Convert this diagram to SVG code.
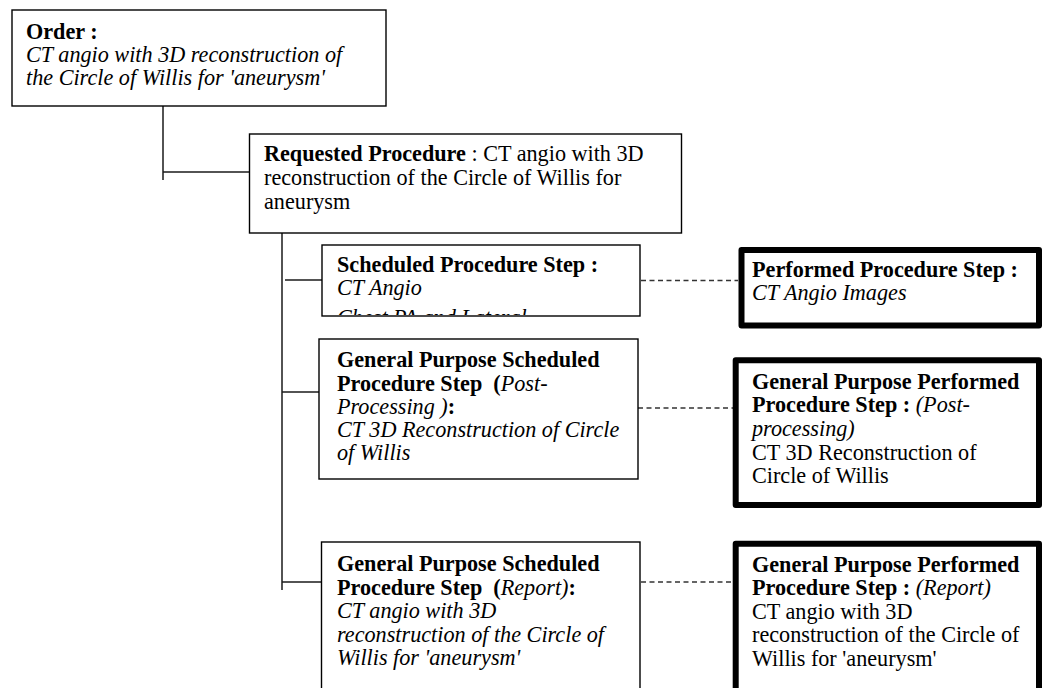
<svg xmlns="http://www.w3.org/2000/svg" width="1042" height="688" viewBox="0 0 1042 688">
  <defs>
    <style>
      text { font-family: "Liberation Serif", "Times New Roman", serif; font-size: 22.2px; fill: #000; }
      .b { font-weight: bold; }
      .i { font-style: italic; }
      .box { fill: #fff; stroke: #000; stroke-width: 1.4; }
      .thick { fill: #fff; stroke: #000; stroke-width: 6; stroke-linejoin: round; }
      .tree { fill: none; stroke: #1a1a1a; stroke-width: 1.5; }
      .dash { fill: none; stroke: #333; stroke-width: 1.3; stroke-dasharray: 5 3.5; }
    </style>
    <clipPath id="spsClip">
      <rect x="323" y="246" width="316" height="69"/>
    </clipPath>
  </defs>
  <rect width="1042" height="688" fill="#fff"/>

  <!-- tree lines and dashed links -->
  <g id="connectors">
    <line class="tree" x1="163" y1="106" x2="163" y2="180"/>
    <line class="tree" x1="163" y1="172" x2="249.5" y2="172"/>
    <line class="tree" x1="282" y1="233" x2="282" y2="590"/>
    <line class="tree" x1="285" y1="280" x2="322" y2="280"/>
    <line class="tree" x1="282" y1="392" x2="319" y2="392"/>
    <line class="tree" x1="282" y1="582" x2="321.5" y2="582"/>
    <line class="dash" x1="641" y1="280.5" x2="738" y2="280.5"/>
    <line class="dash" x1="638" y1="408" x2="733" y2="408"/>
    <line class="dash" x1="641" y1="582" x2="733" y2="582"/>
  </g>

  <g id="order">
    <rect class="box" x="12" y="10" width="374" height="96"/>
    <text x="26" y="38.5" class="b">Order :</text>
    <text x="26" y="61.5" class="i">CT angio with 3D reconstruction of</text>
    <text x="26" y="84.5" class="i">the Circle of Willis for 'aneurysm'</text>
  </g>

  <g id="requested-procedure">
    <rect class="box" x="249.5" y="134" width="432" height="99"/>
    <text x="264" y="161"><tspan class="b">Requested Procedure</tspan> : CT angio with 3D</text>
    <text x="264" y="185">reconstruction of the Circle of Willis for</text>
    <text x="264" y="209">aneurysm</text>
  </g>

  <g id="scheduled-step">
    <rect class="box" x="322" y="245" width="318" height="71"/>
    <text x="337" y="271.5" class="b">Scheduled Procedure Step :</text>
    <text x="337" y="295" class="i">CT Angio</text>
    <text x="337" y="325" class="i" clip-path="url(#spsClip)">Chest PA and Lateral</text>
  </g>

  <g id="performed-step">
    <rect class="thick" x="741.5" y="250" width="297.5" height="75.5"/>
    <text x="752" y="276.5" class="b">Performed Procedure Step :</text>
    <text x="752" y="300" class="i">CT Angio Images</text>
  </g>

  <g id="gp-scheduled-post">
    <rect class="box" x="319" y="339" width="319" height="140"/>
    <text x="337" y="367" class="b">General Purpose Scheduled</text>
    <text x="337" y="390.5" xml:space="preserve"><tspan class="b">Procedure Step  (</tspan><tspan class="i">Post-</tspan></text>
    <text x="337" y="413.5"><tspan class="i">Processing )</tspan><tspan class="b">:</tspan></text>
    <text x="337" y="437" class="i">CT 3D Reconstruction of Circle</text>
    <text x="337" y="460" class="i">of Willis</text>
  </g>

  <g id="gp-performed-post">
    <rect class="thick" x="735.7" y="360.3" width="303.3" height="144.7"/>
    <text x="752" y="388.5" class="b">General Purpose Performed</text>
    <text x="752" y="412" xml:space="preserve"><tspan class="b">Procedure Step : </tspan><tspan class="i">(Post-</tspan></text>
    <text x="752" y="435.5" class="i">processing)</text>
    <text x="752" y="459.5">CT 3D Reconstruction of</text>
    <text x="752" y="483">Circle of Willis</text>
  </g>

  <g id="gp-scheduled-report">
    <rect class="box" x="321.5" y="542" width="318.5" height="160"/>
    <text x="337" y="571" class="b">General Purpose Scheduled</text>
    <text x="337" y="594.5" xml:space="preserve"><tspan class="b">Procedure Step  (</tspan><tspan class="i">Report)</tspan><tspan class="b">:</tspan></text>
    <text x="337" y="618" class="i">CT angio with 3D</text>
    <text x="337" y="641.5" class="i">reconstruction of the Circle of</text>
    <text x="337" y="665" class="i">Willis for 'aneurysm'</text>
  </g>

  <g id="gp-performed-report">
    <rect class="thick" x="735.7" y="543.7" width="303.3" height="160"/>
    <text x="752" y="571.5" class="b">General Purpose Performed</text>
    <text x="752" y="595" xml:space="preserve"><tspan class="b">Procedure Step : </tspan><tspan class="i">(Report)</tspan></text>
    <text x="752" y="618.5">CT angio with 3D</text>
    <text x="752" y="642">reconstruction of the Circle of</text>
    <text x="752" y="665.5">Willis for 'aneurysm'</text>
  </g>
</svg>
